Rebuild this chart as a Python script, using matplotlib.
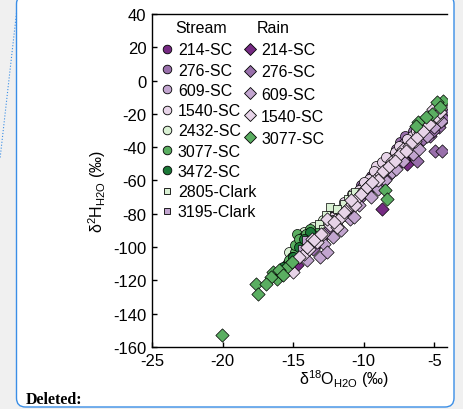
import matplotlib
matplotlib.use("Agg")
import matplotlib.pyplot as plt
from matplotlib.lines import Line2D
from matplotlib.patches import FancyBboxPatch

plt.rcParams.update({
    "font.family": ["Liberation Sans", "DejaVu Sans"],
    "font.size": 11,
    "mathtext.default": "regular",
    "axes.unicode_minus": False,
})

# --- colours (PRGn-like) ---
C214, C276, C609, C1540 = "#762a83", "#9970ab", "#c2a5cf", "#e7d4e8"
C2432, C3077, C3472 = "#d9f0d3", "#5aae61", "#1b7837"

# --- Stream samples (circles / squares) ---
s214_x = [-7.3, -7.1, -7.0, -6.9, -6.8, -6.7, -6.6, -6.5, -6.4, -6.3, -6.2, -6.1, -6.9, -6.6, -7.2, -6.4, -6.0, -8.5, -8.2, -7.6,
          -7.0, -6.8, -6.5, -6.3, -6.7, -7.4, -6.1, -5.9]
s214_y = [-44, -42, -39, -41, -37, -36, -38, -35, -33, -36, -34, -32, -44, -40, -38, -39, -31, -58, -54, -45,
          -46, -43, -42, -39, -34, -40, -36, -35]
s276_x = [-7.9, -7.4, -7.1, -6.5, -5.8, -5.5, -8.8, -9.5, -10.2, -5.2, -6.0, -7.7]
s276_y = [-45, -37, -33, -30, -31, -26, -50, -57, -63, -22, -27, -41]
s609_x = [-12.8, -12.0, -11.2, -10.5, -9.8, -9.2, -8.6, -8.0, -7.5, -6.8, -6.0, -5.4, -13.5, -11.6,
          -13.0, -12.3, -10.9, -10.1, -9.4, -8.3, -7.2, -6.3, -5.7]
s609_y = [-88, -80, -74, -68, -61, -56, -50, -46, -41, -35, -28, -24, -93, -77,
          -86, -82, -71, -64, -58, -48, -38, -31, -27]
s1540_x = [-13.8, -13.2, -12.5, -11.8, -11.0, -10.3, -9.6, -9.1, -8.7, -8.2, -7.8, -7.2, -6.6, -6.0, -5.3, -4.8, -10.8, -12.2,
           -14.3, -13.6, -11.4, -10.0, -9.3, -8.4, -7.5, -6.9, -6.3, -5.6]
s1540_y = [-95, -90, -85, -79, -71, -66, -59, -51, -49, -47, -43, -40, -33, -27, -21, -17, -68, -82,
           -96, -89, -73, -61, -54, -46, -39, -35, -30, -24]
s2432_x = [-14.2, -13.6, -15.3, -12.9]
s2432_y = [-91, -88, -103, -84]
s3077_x = [-14.75, -14.5, -14.87, -15.46, -15.1, -14.04, -13.4, -15.8, -14.3, -13.8, -14.9, -14.1, -13.6, -15.3, -14.6]
s3077_y = [-92, -97, -103, -110, -106, -97, -91, -113, -94, -89, -99, -92, -93, -108, -95]
s3472_x = [-15.0, -13.8, -15.7, -14.6, -14.2]
s3472_y = [-106, -91, -112, -100, -95]
c2805_x = [-12.4, -11.7, -11.1, -12.0, -11.4, -10.8, -12.7, -11.9, -10.6, -13.2, -12.9]
c2805_y = [-76, -79, -71, -83, -74, -69, -81, -77, -67, -86, -89]
c3195_x = [-14.4, -13.9, -14.1]
c3195_y = [-101, -98, -96]

# --- Rain samples (diamonds) ---
r214_x = [-14.75, -8.73, -8.6, -4.72, -7.44, -6.96, -9.3, -10.5, -7.9, -5.6, -6.3, -5.2, -7.3, -12.0, -13.4]
r214_y = [-111, -77, -61, -24, -47, -50, -62, -72, -52, -30, -39, -29, -44, -86, -99]
r276_x = [-4.96, -4.48, -5.55, -5.3, -4.96, -4.4, -6.25, -10.3, -9.8, -8.3, -7.6, -11.3, -12.5, -6.8, -4.7, -13.6,
          -5.8, -6.4, -7.2, -8.0, -9.0, -9.6, -10.8, -11.8, -13.0, -5.1, -4.3]
r276_y = [-42, -42, -29, -33, -26, -19, -48, -71, -67, -57, -50, -80, -90, -42, -28, -101,
          -35, -40, -47, -53, -62, -63, -76, -84, -95, -30, -23]
r609_x = [-13.1, -12.2, -11.0, -9.5, -8.0, -6.5, -5.5, -5.0, -10.3, -7.2, -12.8, -14.0,
          -12.6, -11.6, -10.7, -9.0, -8.5, -7.7, -6.1, -4.5]
r609_y = [-106, -94, -83, -70, -55, -44, -33, -28, -75, -48, -98, -108,
          -103, -90, -82, -65, -60, -53, -41, -24]
r1540_x = [-15.0, -14.2, -13.69, -13.3, -12.9, -12.4, -12.0, -11.6, -11.2, -10.8, -10.4, -10.0, -9.6, -9.2, -8.8, -8.4,
           -8.0, -7.6, -7.2, -6.8, -6.4, -6.0, -5.67, -5.3, -5.1, -4.8, -4.48, -13.9, -11.9, -10.6, -9.0, -7.4,
           -14.6, -14.0, -13.5, -13.0, -12.6, -12.1, -11.4, -10.9, -10.2, -9.8, -9.4, -8.6, -8.2, -7.8, -7.0,
           -6.6, -6.2, -5.8, -5.4, -4.9, -4.6]
r1540_y = [-115, -104, -95, -97, -92, -87, -84, -82, -77, -74, -70, -66, -63, -60, -56, -53,
           -48, -45, -41, -39, -36, -31, -27, -25, -17, -22, -16, -101, -88, -75, -60, -44,
           -106, -100, -96, -92, -83, -85, -79, -72, -68, -64, -61, -54, -51, -48, -42,
           -37, -34, -30, -26, -21, -19]
r3077_x = [-20.06, -17.6, -17.46, -16.41, -16.17, -15.82, -15.46, -15.1, -16.6, -8.5, -8.38, -4.37, -4.84, -5.19, -6.14, -6.3,
           -16.9, -16.0, -15.7, -4.6, -5.6]
r3077_y = [-153, -122, -128, -115, -119, -116, -112, -109, -118, -66, -71, -12, -13, -20, -25, -27,
           -122, -114, -117, -16, -22]

stream = [
    ("214-SC", s214_x, s214_y, C214, "o"),
    ("276-SC", s276_x, s276_y, C276, "o"),
    ("609-SC", s609_x, s609_y, C609, "o"),
    ("1540-SC", s1540_x, s1540_y, C1540, "o"),
    ("2432-SC", s2432_x, s2432_y, C2432, "o"),
    ("3077-SC", s3077_x, s3077_y, C3077, "o"),
    ("3472-SC", s3472_x, s3472_y, C3472, "o"),
    ("2805-Clark", c2805_x, c2805_y, C2432, "s"),
    ("3195-Clark", c3195_x, c3195_y, C609, "s"),
]
rain = [
    ("214-SC", r214_x, r214_y, C214),
    ("276-SC", r276_x, r276_y, C276),
    ("609-SC", r609_x, r609_y, C609),
    ("1540-SC", r1540_x, r1540_y, C1540),
    ("3077-SC", r3077_x, r3077_y, C3077),
]

W, H = 463, 410
fig = plt.figure(figsize=(W / 100, H / 100), dpi=100, facecolor="#f0f0f0")

# comment-balloon frame (behind the axes)
BLUE = "#3a8ee6"
fig.add_artist(FancyBboxPatch((0.165, 0.02), 4.375, 4.12, boxstyle="round,pad=0,rounding_size=0.09",
                              transform=fig.dpi_scale_trans, facecolor="white", edgecolor=BLUE, lw=1.0,
                              zorder=-5))
fig.add_artist(Line2D([0.165, 0.0], [(H - 14) / 100, (H - 160) / 100], transform=fig.dpi_scale_trans,
                      color=BLUE, lw=0.8, ls=":", zorder=-4))
fig.text(26 / W, 6 / H, "Deleted:", family=["Liberation Serif", "DejaVu Serif"], fontweight="bold",
         fontsize=11.5, ha="left", va="baseline")

ax = fig.add_axes([152 / W, 1 - 348 / H, 295 / W, 333 / H])
ax.set_facecolor("none")

for lab, xs, ys, col, mk in stream:
    ax.scatter(xs, ys, s=52 if mk == "o" else 34, marker=mk, c=col, edgecolors="k", linewidths=0.5, zorder=2)
for lab, xs, ys, col in rain:
    ax.scatter(xs, ys, s=46, marker="D", c=col, edgecolors="k", linewidths=0.5, zorder=3)

ax.set_xlim(-25, -4.1)
ax.set_ylim(-160, 40)
ax.set_xticks([-25, -20, -15, -10, -5])
ax.set_yticks(range(-160, 41, 20))
ax.tick_params(direction="in", length=3.6, width=1.0, pad=4, labelsize=12)
ax.spines["right"].set_visible(False)
for sp in ("left", "bottom", "top"):
    ax.spines[sp].set_linewidth(1.0)

ax.set_xlabel(r"δ$^{18}$O$_{H2O}$ (‰)", fontsize=11.5)
ax.xaxis.set_label_coords(0.65, -0.06)
ax.set_ylabel(r"δ$^{2}$H$_{H2O}$ (‰)", fontsize=11.5)
ax.yaxis.set_label_coords(-0.15, 0.47)

# legends
s_handles = [Line2D([], [], ls="none", marker=mk, mfc=col, mec="k", mew=0.6, ms=6.2 if mk == "o" else 5)
             for lab, xs, ys, col, mk in stream]
leg1 = ax.legend(s_handles, [s[0] for s in stream], loc="upper left", bbox_to_anchor=(0.0305, 0.915),
                 frameon=False, borderpad=0, borderaxespad=0, handlelength=0.8, handletextpad=0.26,
                 labelspacing=0.33, fontsize=11.5)
ax.add_artist(leg1)
r_handles = [Line2D([], [], ls="none", marker="D", mfc=col, mec="k", mew=0.6, ms=6.6) for lab, xs, ys, col in rain]
ax.legend(r_handles, [r[0] for r in rain], loc="upper left", bbox_to_anchor=(0.312, 0.915),
          frameon=False, borderpad=0, borderaxespad=0, handlelength=0.8, handletextpad=0.26,
          labelspacing=0.45, fontsize=11.5)
ax.text(0.168, 0.945, "Stream", transform=ax.transAxes, ha="center", va="baseline", fontsize=11.5)
ax.text(0.410, 0.945, "Rain", transform=ax.transAxes, ha="center", va="baseline", fontsize=11.5)

fig.savefig("out.png", dpi=100, facecolor=fig.get_facecolor())
